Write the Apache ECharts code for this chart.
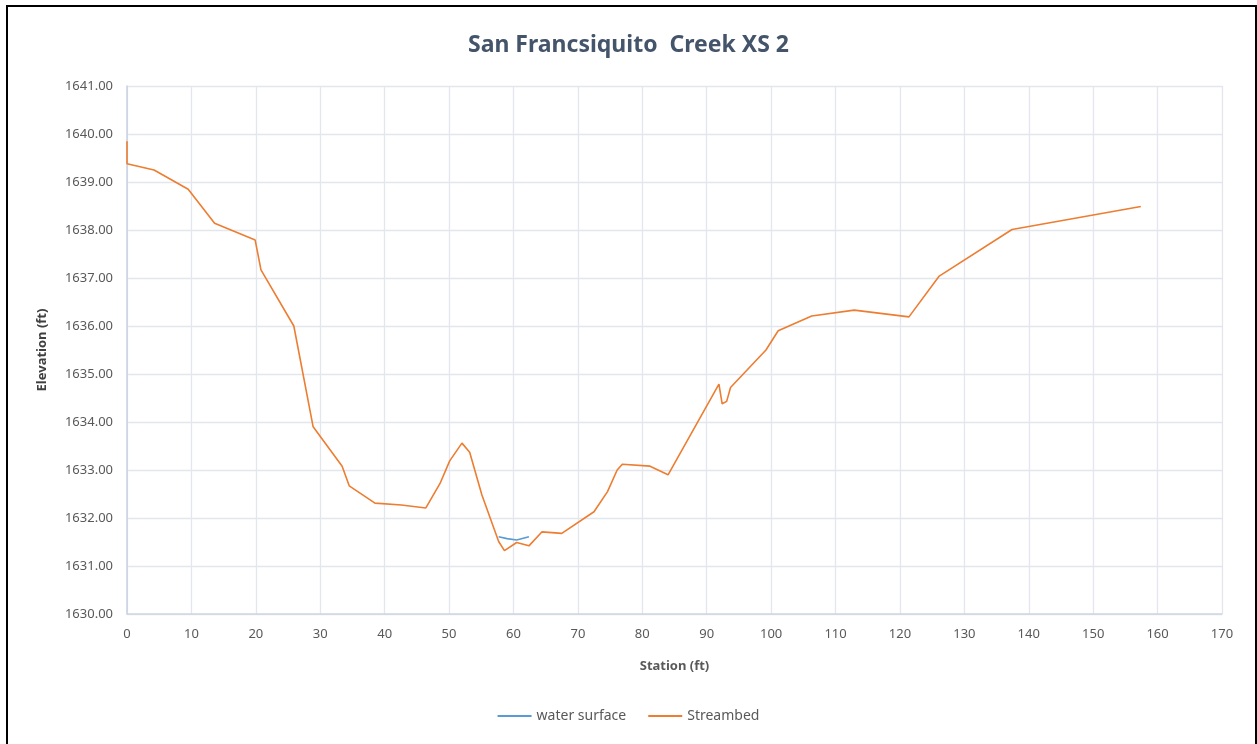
<!DOCTYPE html>
<html><head><meta charset="utf-8">
<script src="https://cdn.jsdelivr.net/npm/echarts@6/dist/echarts.min.js"></script>
<style>html,body{margin:0;padding:0;background:#fff}#c{width:1257px;height:744px}</style>
</head><body><div id="c"></div>
<script>
const streambedStation = [0, 0, 4.2, 9.5, 13.6, 19.9, 20.8, 25.9, 28.9, 33.4, 34.5, 38.5, 42.6, 46.4, 48.6, 50.1, 52.0, 53.2, 55.1, 57.7, 58.6, 60.5, 62.4, 64.4, 67.5, 72.5, 74.6, 76.1, 76.9, 81.2, 84.0, 91.9, 92.4, 93.1, 93.7, 99.2, 101.1, 106.3, 112.9, 121.4, 126.1, 137.4, 157.4];
const streambedElev = [1639.85, 1639.38, 1639.25, 1638.85, 1638.14, 1637.79, 1637.17, 1636.00, 1633.90, 1633.08, 1632.67, 1632.31, 1632.27, 1632.21, 1632.72, 1633.19, 1633.56, 1633.37, 1632.48, 1631.51, 1631.32, 1631.49, 1631.42, 1631.71, 1631.68, 1632.13, 1632.55, 1633.00, 1633.12, 1633.08, 1632.90, 1634.79, 1634.38, 1634.43, 1634.72, 1635.50, 1635.90, 1636.21, 1636.33, 1636.19, 1637.04, 1638.01, 1638.49];
const waterStation = [57.7, 59.0, 60.5, 62.4];
const waterElev = [1631.61, 1631.57, 1631.54, 1631.61];
const xTicks = {min: 0, max: 170, interval: 10};
const yTicks = {min: 1630, max: 1641, interval: 1};

const font = '"Noto Sans", "Liberation Sans", sans-serif';
const chart = echarts.init(document.getElementById('c'));
chart.setOption({
  animation: false,
  backgroundColor: '#fff',
  graphic: [{type: 'rect', shape: {x: 7, y: 6, width: 1249, height: 800}, style: {fill: 'none', stroke: '#000', lineWidth: 2}, silent: true}],
  title: {text: 'San Francsiquito  Creek XS 2', left: 'center', top: 29,
    textStyle: {fontFamily: font, fontSize: 23, fontWeight: 'bold', color: '#44546A'}},
  grid: {left: 127, right: 35, top: 86, bottom: 130},
  legend: {bottom: 16, left: 'center', icon: 'rect', itemWidth: 34, itemHeight: 2, itemGap: 22,
    textStyle: {fontFamily: font, fontSize: 14, color: '#595959'},
    data: ['water surface', 'Streambed']},
  xAxis: {type: 'value', min: xTicks.min, max: xTicks.max, interval: xTicks.interval,
    name: 'Station (ft)', nameLocation: 'middle', nameGap: 24,
    nameTextStyle: {fontFamily: font, fontSize: 13, fontWeight: 'bold', color: '#595959', padding: [22,0,0,0]},
    axisLine: {show: true, lineStyle: {color: '#D0D6E2', width: 1.5}},
    axisTick: {show: false},
    axisLabel: {fontFamily: font, fontSize: 13, color: '#595959', margin: 14},
    splitLine: {show: true, lineStyle: {color: '#E3E6ED', width: 1.3}}},
  yAxis: {type: 'value', min: yTicks.min, max: yTicks.max, interval: yTicks.interval,
    name: 'Elevation (ft)', nameLocation: 'middle', nameGap: 78, nameRotate: 90,
    nameTextStyle: {fontFamily: font, fontSize: 13, fontWeight: 'bold', color: '#404040'},
    axisLine: {show: true, lineStyle: {color: '#C9D1DF', width: 1.5}},
    axisTick: {show: false},
    axisLabel: {fontFamily: font, fontSize: 13, color: '#595959', margin: 14,
      formatter: v => v.toFixed(2)},
    splitLine: {show: true, lineStyle: {color: '#E3E6ED', width: 1.3}}},
  series: [
    {name: 'water surface', type: 'line', symbol: 'none', color: '#5B9BD5',
      lineStyle: {width: 1.6, color: '#5B9BD5'},
      data: waterStation.map((s, i) => [s, waterElev[i]]), z: 3},
    {name: 'Streambed', type: 'line', symbol: 'none', color: '#ED7D31',
      lineStyle: {width: 1.6, color: '#ED7D31'},
      data: streambedStation.map((s, i) => [s, streambedElev[i]]), z: 2}
  ]
});
</script></body></html>
